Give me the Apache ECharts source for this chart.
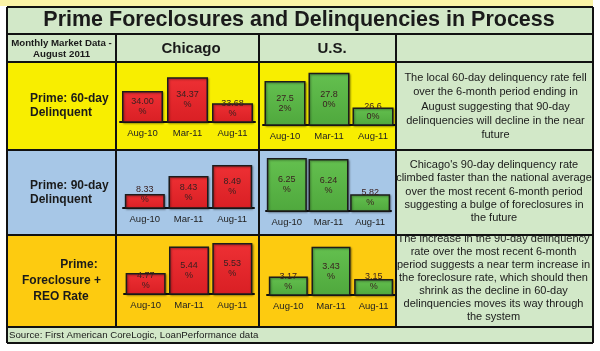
<!DOCTYPE html>
<html>
<head>
<meta charset="utf-8">
<script src="https://cdn.jsdelivr.net/npm/echarts@6/dist/echarts.min.js"></script>
<style>
  html, body { margin: 0; padding: 0; background: #fff; }
  #main { width: 600px; height: 351px; }
</style>
</head>
<body>
<div id="main"></div>
<script>
// data
var months = ['Aug-10', 'Mar-11', 'Aug-11'];
var chi60 = [34.00, 34.37, 33.68];
var us60 = [27.52, 27.80, 26.60];
var chi90 = [8.33, 8.43, 8.49];
var us90 = [6.25, 6.24, 5.82];
var chiFc = [4.77, 5.44, 5.53];
var usFc = [3.17, 3.43, 3.15];

var titleText = 'Prime Foreclosures and Delinquencies in Process';
var note60 = 'The local 60-day delinquency rate fell\nover the 6-month period ending in\nAugust suggesting that 90-day\ndelinquencies will decline in the near\nfuture';
var note90 = "Chicago's 90-day delinquency rate\nclimbed faster than the national average\nover the most recent 6-month period\nsuggesting a bulge of foreclosures in\nthe future";
var noteFc = 'The increase in the 90-day delinquency\nrate over the most recent 6-month\nperiod suggests a near term increase in\nthe foreclosure rate, which should then\nshrink as the decline in 60-day\ndelinquencies moves its way through\nthe system';
var sourceText = 'Source: First American CoreLogic, LoanPerformance data';

var FONT = '"Liberation Sans", Arial, sans-serif';
var RED = ['#ee3034', '#d91f24'], GREEN = ['#64c04f', '#4fa83d'];

var mychart = echarts.init(document.getElementById('main'));

// one small chart per table cell: left, width, top, baseline, axis min, px per unit
var cells = [
    { data: chi60, color: RED,   wrap: 5, left: 120, width: 135, top: 66,  base: 122, min: 33.18, k: 37.7, bw: 41 },
    { data: us60,  color: GREEN, wrap: 4, left: 263, width: 132, top: 66,  base: 125, min: 26.0,  k: 29,   bw: 41 },
    { data: chi90, color: RED,   wrap: 4, left: 123, width: 131, top: 153, base: 208, min: 8.253, k: 181,  bw: 40 },
    { data: us90,  color: GREEN, wrap: 4, left: 266, width: 125, top: 153, base: 211, min: 5.62,  k: 84,   bw: 40 },
    { data: chiFc, color: RED,   wrap: 4, left: 124, width: 130, top: 238, base: 294, min: 4.24,  k: 39.5, bw: 40 },
    { data: usFc,  color: GREEN, wrap: 4, left: 267, width: 128, top: 238, base: 295, min: 3.01,  k: 115,  bw: 39 }
];

var grids = [], xAxes = [], yAxes = [], series = [];
cells.forEach(function(c, i) {
    var h = c.base - c.top;
    grids.push({ left: c.left, top: c.top, width: c.width, height: h });
    xAxes.push({
        type: 'category', gridIndex: i, data: months,
        axisLine: { lineStyle: { color: '#111', width: 2 } },
        axisTick: { show: false },
        axisLabel: { fontSize: 9.5, color: '#222', margin: 6, fontFamily: FONT }
    });
    yAxes.push({ type: 'value', gridIndex: i, show: false, min: c.min, max: c.min + h / c.k });
    series.push({
        type: 'bar', xAxisIndex: i, yAxisIndex: i, barWidth: c.bw,
        itemStyle: {
            color: new echarts.graphic.LinearGradient(0, 0, 0, 1, [
                { offset: 0, color: c.color[0] }, { offset: 1, color: c.color[1] }
            ]),
            borderColor: '#1c1c1c', borderWidth: 1.5,
            shadowColor: 'rgba(0,0,0,0.35)', shadowBlur: 2, shadowOffsetX: 1, shadowOffsetY: 1
        },
        label: {
            show: true, fontSize: 9, lineHeight: 10, color: '#3a2020', fontFamily: FONT,
            formatter: function(p) {
                var s = p.value.toFixed(2) + '%';
                var cut = Math.min(s.length - 1, c.wrap);
                return s.slice(0, cut) + '\n' + s.slice(cut);
            }
        },
        data: c.data.map(function(v) {
            var bh = c.k * (v - c.min);
            var low = bh / 2 < 14.5;
            return { value: v, label: low ? { position: 'insideBottom', distance: 4.5 } : { position: 'inside' } };
        })
    });
});

function box(x, y, w, h, fill) {
    return { type: 'rect', z: -10, shape: { x: x, y: y, width: w, height: h }, style: { fill: fill } };
}
function rule(x1, y1, x2, y2) {
    return { type: 'line', z: 50, shape: { x1: x1, y1: y1, x2: x2, y2: y2 }, style: { stroke: '#111', lineWidth: 2 } };
}
function label(x, y, text, size, weight, align, lh) {
    return {
        type: 'text', z: 60, x: x, y: y,
        style: {
            text: text, fontSize: size, fontWeight: weight, fontFamily: FONT, fill: '#1a1a1a',
            align: align, verticalAlign: 'middle', lineHeight: lh || size * 1.2
        }
    };
}

var LG = '#d2e8c8', YEL = '#f8ee00', BLU = '#a7c7e7', ORG = '#fdcb10';
var graphics = [
    box(0, 0, 593, 6, '#faf3a6'),
    box(7, 7, 586, 55, LG),
    box(7, 62, 389, 88, YEL), box(396, 62, 197, 88, LG),
    box(7, 150, 389, 85, BLU), box(396, 150, 197, 85, LG),
    box(7, 235, 389, 92, ORG), box(396, 235, 197, 92, LG),
    box(7, 327, 586, 16, LG),
    rule(7, 7, 593, 7), rule(7, 34, 593, 34), rule(7, 62, 593, 62), rule(7, 150, 593, 150),
    rule(7, 235, 593, 235), rule(7, 327, 593, 327), rule(7, 343, 593, 343),
    rule(7, 7, 7, 343), rule(593, 7, 593, 343),
    rule(116, 34, 116, 327), rule(259, 34, 259, 327), rule(396, 34, 396, 327),
    label(299, 20.5, titleText, 21.5, 'bold', 'center'),
    label(61.5, 48.5, 'Monthly Market Data -\nAugust 2011', 9.7, 'bold', 'center', 11),
    label(191, 48.5, 'Chicago', 15, 'bold', 'center'),
    label(332, 48.5, 'U.S.', 15, 'bold', 'center'),
    label(30, 106, 'Prime: 60-day\nDelinquent', 12, 'bold', 'left', 14),
    label(30, 193, 'Prime: 90-day\nDelinquent', 12, 'bold', 'left', 14),
    label(79, 265, 'Prime:', 12, 'bold', 'center'),
    label(61.5, 281, 'Foreclosure +', 12, 'bold', 'center'),
    label(61, 296.5, 'REO Rate', 12, 'bold', 'center'),
    label(495.5, 106.5, note60, 11, 'normal', 'center', 14.3),
    label(494, 191.5, note90, 11, 'normal', 'center', 13.3),
    label(493.5, 278, noteFc, 11, 'normal', 'center', 13),
    label(9, 335.5, sourceText, 9.7, 'normal', 'left')
];

mychart.setOption({
    animation: false,
    grid: grids,
    xAxis: xAxes,
    yAxis: yAxes,
    series: series,
    graphic: { elements: graphics }
});
</script>
</body>
</html>
